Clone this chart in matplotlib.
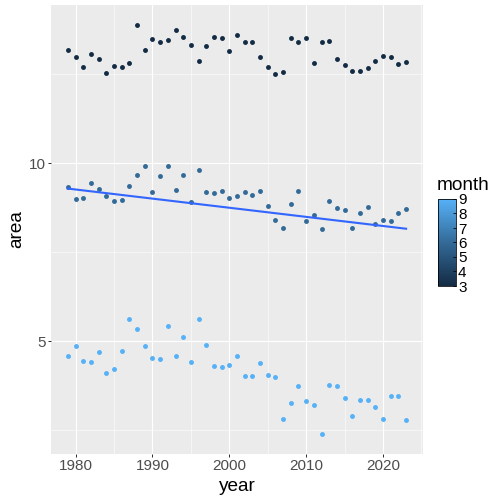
import numpy as np
import matplotlib
matplotlib.use("Agg")
import matplotlib.pyplot as plt
from matplotlib.colors import LinearSegmentedColormap, Normalize
from matplotlib.ticker import FixedLocator

plt.rcParams['font.family'] = ['Liberation Sans', 'DejaVu Sans']

# data
years = np.arange(1979, 2024)
months = [3, 6, 9]

area_m3 = [13.19, 12.98, 12.70, 13.06, 12.92, 12.54, 12.74, 12.71, 12.83, 13.88,
           13.19, 13.50, 13.41, 13.46, 13.76, 13.54, 13.33, 12.89, 13.29, 13.56,
           13.53, 13.15, 13.62, 13.41, 13.41, 12.98, 12.72, 12.51, 12.56, 13.52,
           13.42, 13.52, 12.83, 13.40, 13.44, 12.94, 12.77, 12.60, 12.60, 12.68,
           12.87, 13.02, 12.98, 12.79, 12.86]
area_m6 = [9.33, 8.99, 9.02, 9.46, 9.27, 9.08, 8.95, 8.98, 9.38, 9.68,
           9.94, 9.19, 9.65, 9.94, 9.25, 9.68, 8.93, 9.82, 9.19, 9.18,
           9.24, 9.04, 9.09, 9.19, 9.11, 9.23, 8.80, 8.41, 8.20, 8.85,
           9.24, 8.37, 8.54, 8.15, 8.95, 8.76, 8.70, 8.20, 8.62, 8.78,
           8.31, 8.41, 8.39, 8.60, 8.71]
area_m9 = [4.58, 4.87, 4.44, 4.43, 4.70, 4.11, 4.23, 4.72, 5.64, 5.36,
           4.86, 4.55, 4.51, 5.43, 4.58, 5.13, 4.43, 5.62, 4.89, 4.30,
           4.29, 4.34, 4.59, 4.03, 4.04, 4.39, 4.07, 4.01, 2.83, 3.26,
           3.75, 3.34, 3.21, 2.41, 3.78, 3.74, 3.42, 2.91, 3.35, 3.35,
           3.17, 2.83, 3.46, 3.46, 2.79]
series = [area_m3, area_m6, area_m9]

# ggplot default continuous scale
cmap = LinearSegmentedColormap.from_list("gg", ["#132B43", "#336A98", "#56B1F7"])
norm = Normalize(3, 9)

fig = plt.figure(figsize=(7, 7), dpi=72)
W = H = 504.0
ax = fig.add_axes([51 / W, 50 / H, 372 / W, 449 / H])
ax.set_facecolor("#EBEBEB")

for m, a in zip(months, series):
    ax.scatter(years, a, s=24, color=cmap(norm(m)), linewidths=0, zorder=3)

# linear fit on all points together
all_x = np.concatenate([years] * len(series))
all_y = np.concatenate(series)
k, b = np.polyfit(all_x, all_y, 1)
ax.plot(years, k * years + b, color="#3366FF", lw=2.1, zorder=4)

ax.set_xlim(1976.8, 2025.2)
ax.set_ylim(1.84, 14.45)
ax.set_xticks([1980, 1990, 2000, 2010, 2020])
ax.set_yticks([5, 10])
ax.xaxis.set_minor_locator(FixedLocator([1985, 1995, 2005, 2015, 2025]))
ax.yaxis.set_minor_locator(FixedLocator([2.5, 7.5, 12.5]))
ax.grid(which="major", color="white", lw=1.1)
ax.grid(which="minor", color="white", lw=0.55)
ax.set_axisbelow(True)
for s in ax.spines.values():
    s.set_visible(False)
ax.tick_params(which="major", length=3, width=1, color="#333333",
               labelsize=15.2, labelcolor="#4D4D4D", pad=2)
ax.tick_params(which="minor", length=0)
ax.set_xlabel("year", fontsize=19, labelpad=5)
ax.set_ylabel("area", fontsize=19, labelpad=4)

# colourbar legend
cax = fig.add_axes([438 / W, 218 / H, 18 / W, 87 / H])
cb = matplotlib.colorbar.ColorbarBase(cax, cmap=cmap, norm=norm, ticks=range(3, 10))
cb.outline.set_linewidth(0.8)
cax.tick_params(length=3, width=0.8, direction="in", labelsize=15.2, pad=2)
fig.text(437 / W, 1 - 185 / H, "month", fontsize=19, va="center", ha="left")

fig.savefig("out.png", dpi=72)
